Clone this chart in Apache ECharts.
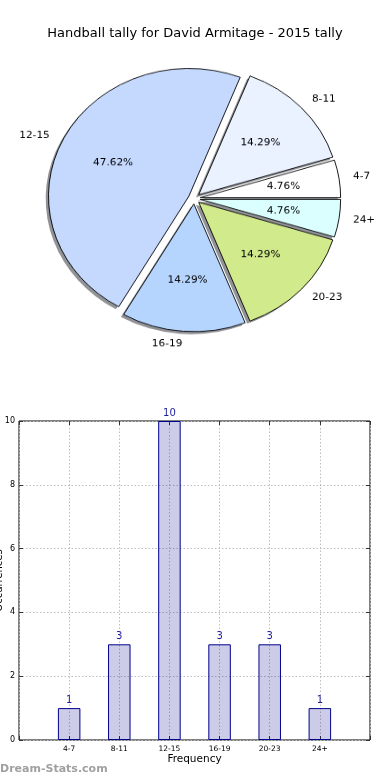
<!DOCTYPE html>
<html><head><meta charset="utf-8">
<script src="https://cdn.jsdelivr.net/npm/echarts@6/dist/echarts.min.js"></script>
<style>
html,body{margin:0;padding:0;background:#fff;}
#main{position:absolute;left:0;top:0;width:390px;height:780px;}
#pie{position:absolute;left:0;top:0;width:390px;height:400px;transform:scaleY(0.9095);transform-origin:0 198.5px;}
</style></head><body>
<div id="main"></div><div id="pie"></div>
<script>
const chartTitle = 'Handball tally for David Armitage - 2015 tally';
const categories = ['4-7', '8-11', '12-15', '16-19', '20-23', '24+'];
const counts = [1, 3, 10, 3, 3, 1];
const pieColors = ['#ffffff', '#eaf1ff', '#c5d9ff', '#b5d5ff', '#d1ea8c', '#dbffff'];
const yTicks = [0, 2, 4, 6, 8, 10];
const xAxisName = 'Frequency';
const yAxisName = 'Occurrences';
const watermark = 'Dream-Stats.com';

const FONT = 'DejaVu Sans';
const R = 140.4;
const CENTER = [194.3, 198.5];
const SHADOW_DX = -2.8, SHADOW_DY = 2.8;
const total = counts.reduce((a, b) => a + b, 0);

// ---------- bar chart + title ----------
const main = echarts.init(document.getElementById('main'), null, {renderer: 'canvas'});
const yMin = yTicks[0], yMax = yTicks[yTicks.length - 1], yStep = yTicks[1] - yTicks[0];
const dotted = {show: true, lineStyle: {color: '#bdbdbd', type: [1.5, 2], width: 1}};
const tick = {show: true, inside: true, length: 4, lineStyle: {color: '#333'}};
const GRID = {left: 19, right: 20, top: 421, bottom: 40};
main.setOption({
  animation: false,
  textStyle: {fontFamily: FONT},
  title: {text: chartTitle, left: 'center', top: 22, textStyle: {fontSize: 13, fontWeight: 'normal', color: '#000', fontFamily: FONT}},
  graphic: [
    {type: 'text', left: 0, top: 764, style: {text: watermark, fontSize: 11, fontWeight: 'bold', fill: '#a0a0a0', fontFamily: FONT}},
    {type: 'text', x: GRID.left - 20, y: (GRID.top + 780 - GRID.bottom) / 2, rotation: Math.PI / 2,
     style: {text: yAxisName, fontSize: 10, fill: '#000', fontFamily: FONT, align: 'center', verticalAlign: 'middle'}}
  ],
  grid: Object.assign({containLabel: false, outerBoundsMode: 'none',
         show: true, borderColor: '#000', borderWidth: 1, backgroundColor: 'transparent'}, GRID),
  xAxis: [{
    type: 'value', min: -1, max: categories.length, interval: 1,
    name: xAxisName, nameLocation: 'middle', nameGap: 14,
    nameTextStyle: {fontSize: 10.5, color: '#000', fontFamily: FONT},
    axisLine: {show: false, onZero: false},
    axisTick: tick,
    axisLabel: {fontSize: 7.5, color: '#000', margin: 5, fontFamily: FONT,
      formatter: v => (v >= 0 && v < categories.length) ? categories[v] : ''},
    splitLine: dotted
  }, {
    type: 'value', position: 'top', min: -1, max: categories.length, interval: 1,
    axisLine: {show: false, onZero: false}, axisLabel: {show: false}, splitLine: {show: false},
    axisTick: tick
  }],
  yAxis: [{
    type: 'value', position: 'left', min: yMin, max: yMax, interval: yStep,
    axisLine: {show: false, onZero: false},
    axisTick: tick,
    axisLabel: {fontSize: 8, color: '#000', margin: 4, fontFamily: FONT},
    splitLine: dotted
  }, {
    type: 'value', position: 'right', min: yMin, max: yMax, interval: yStep,
    axisLine: {show: false, onZero: false}, axisLabel: {show: false}, splitLine: {show: false},
    axisTick: tick
  }],
  series: [{
    type: 'bar', xAxisIndex: 0, yAxisIndex: 0,
    barWidth: 22.5,
    data: counts.map((v, i) => [i, v]),
    itemStyle: {color: 'rgba(0,0,139,0.2)', borderColor: '#00008b', borderWidth: 1},
    label: {show: true, position: 'top', distance: 3, fontSize: 10, color: '#1c1ca0', fontFamily: FONT,
      formatter: p => String(p.value[1])},
    emphasis: {disabled: true}, silent: true
  }]
});

// ---------- pie chart ----------
const pie = echarts.init(document.getElementById('pie'), null, {renderer: 'canvas'});
const pieBase = {type: 'pie', radius: [0, R], startAngle: 0, clockwise: false,
  selectedMode: 'multiple', selectedOffset: 6, avoidLabelOverlap: false, silent: true,
  emphasis: {disabled: true}};
pie.setOption({
  animation: false,
  textStyle: {fontFamily: FONT},
  series: [Object.assign({}, pieBase, {
    // drop shadow
    center: [CENTER[0] + SHADOW_DX, CENTER[1] + SHADOW_DY],
    data: categories.map((c, i) => ({name: c, value: counts[i], selected: true})),
    itemStyle: {color: 'rgba(55,57,65,0.55)', borderWidth: 0},
    label: {show: false}, labelLine: {show: false}
  }), Object.assign({}, pieBase, {
    center: CENTER,
    data: categories.map((c, i) => ({name: c, value: counts[i], selected: true, itemStyle: {color: pieColors[i]}})),
    itemStyle: {borderColor: '#000', borderWidth: 0.9},
    label: {show: true, position: 'outside', formatter: '{b}', fontSize: 10.5, color: '#000', fontFamily: FONT, distanceToLabelLine: 0},
    labelLine: {show: false, length: R * 0.1, length2: 0}
  }), Object.assign({}, pieBase, {
    center: CENTER, radius: [22, R],
    data: categories.map((c, i) => ({name: c, value: counts[i], selected: true})),
    itemStyle: {color: 'rgba(0,0,0,0)', borderWidth: 0},
    label: {show: true, position: 'inside', fontSize: 10.5, color: '#000', fontFamily: FONT,
      formatter: p => (p.value / total * 100).toFixed(2) + '%'},
    labelLine: {show: false}
  })]
});
</script>
</body></html>
